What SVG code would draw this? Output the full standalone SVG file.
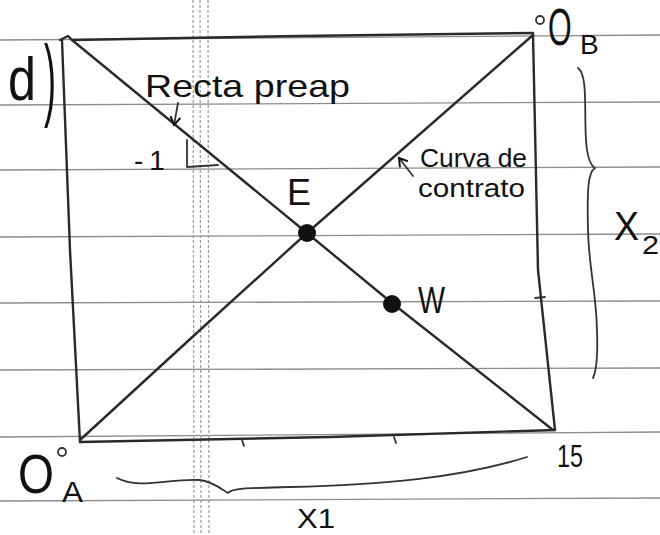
<svg xmlns="http://www.w3.org/2000/svg" width="660" height="535" viewBox="0 0 660 535">
<defs>
<style>
.paper{stroke:#8c8c8c;stroke-width:1.3;fill:none}
.margin{stroke:#9a9a9a;stroke-width:1.2;fill:none;stroke-dasharray:3 2}
.pen{stroke:#2a2a2a;stroke-width:2.4;fill:none;stroke-linecap:round;stroke-linejoin:round}
.thin{stroke:#333;stroke-width:1.8;fill:none;stroke-linecap:round;stroke-linejoin:round}
.hand{font-family:"Liberation Sans","DejaVu Sans",sans-serif;fill:#111}
</style>
<marker id="ah" markerWidth="12" markerHeight="12" refX="9" refY="6" orient="auto" markerUnits="userSpaceOnUse">
<path d="M1,1 L9,6 L1,11" fill="none" stroke="#111" stroke-width="2"/>
</marker>
</defs>
<rect width="660" height="535" fill="#fff"/>
<g id="paper">
<line class="paper" x1="0" y1="40" x2="660" y2="35"/>
<line class="paper" x1="0" y1="105" x2="660" y2="102"/>
<line class="paper" x1="0" y1="170" x2="660" y2="167"/>
<line class="paper" x1="0" y1="237" x2="660" y2="234"/>
<line class="paper" x1="0" y1="303" x2="660" y2="301"/>
<line class="paper" x1="0" y1="370" x2="660" y2="368"/>
<line class="paper" x1="0" y1="437" x2="660" y2="432"/>
<line class="paper" x1="0" y1="501" x2="660" y2="498"/>
<line class="margin" x1="193" y1="0" x2="194" y2="535"/>
<line class="margin" x1="200" y1="0" x2="201" y2="535"/>
<line class="margin" x1="208" y1="0" x2="209" y2="535"/>
</g>
<g id="box">
<path class="pen" d="M60,40 L68,36 L72,40 L300,36 L533,33"/>
<path class="pen" d="M62,40 L70,250 L80,442"/>
<path class="pen" d="M80,442 L330,437 L555,430"/>
<path class="pen" d="M533,34 L538,270 L555,430"/>
<path class="thin" d="M242,440 L244,446 M394,437 L396,443 M535,298 L545,297"/>
</g>
<g id="connectors">
<path class="pen" d="M72,40 L307,233 L392,303 L553,430"/>
<path class="pen" d="M80,440 L200,330 L307,233 L533,35"/>
<path class="thin" d="M187,140 L187,167 L218,165"/>
<path class="thin" d="M178,103 L174,125" marker-end="url(#ah)"/>
<path class="thin" d="M413,176 L399,158" marker-end="url(#ah)"/>
<path class="thin" d="M578,68 C588,75 584,110 586,140 C587,155 590,165 595,168 C588,172 587,190 588,230 C589,270 596,290 597,330 C598,360 596,372 593,378"/>
<path class="thin" d="M117,478 C140,490 170,478 200,480 C215,482 225,492 228,493 C232,488 250,488 290,487 C380,485 460,478 527,457"/>
</g>
<g id="label-d"><text class="hand" x="8" y="100" font-size="62" textLength="28" lengthAdjust="spacingAndGlyphs">d</text>
<text class="hand" x="44" y="109" font-size="90" textLength="12" lengthAdjust="spacingAndGlyphs">)</text></g>
<g id="label-recta"><text class="hand" x="145" y="97" font-size="32" textLength="205" lengthAdjust="spacingAndGlyphs">Recta preap</text></g>
<g id="label-slope"><text class="hand" x="134" y="170" font-size="28" letter-spacing="6">-1</text></g>
<g id="label-curva"><text class="hand" x="420" y="167" font-size="25" textLength="107" lengthAdjust="spacingAndGlyphs">Curva de</text>
<text class="hand" x="418" y="197" font-size="25" textLength="107" lengthAdjust="spacingAndGlyphs">contrato</text></g>
<g id="node-E"><circle cx="307" cy="233" r="9" fill="#111"/>
<text class="hand" x="287" y="205" font-size="36" textLength="24" lengthAdjust="spacingAndGlyphs">E</text></g>
<g id="node-W"><circle cx="392" cy="304" r="9" fill="#111"/>
<text class="hand" x="418" y="313" font-size="36" textLength="27" lengthAdjust="spacingAndGlyphs">W</text></g>
<g id="origin-B"><circle cx="540" cy="20" r="4" class="thin"/>
<text class="hand" transform="translate(548,45) scale(0.8,1.35)" font-size="38">O</text>
<text class="hand" x="580" y="54" font-size="28">B</text></g>
<g id="origin-A"><circle cx="62" cy="452" r="4" class="thin"/>
<text class="hand" x="18" y="493" font-size="56" textLength="36" lengthAdjust="spacingAndGlyphs">O</text>
<text class="hand" x="62" y="502" font-size="30" textLength="21" lengthAdjust="spacingAndGlyphs">A</text></g>
<g id="label-15"><text class="hand" x="557" y="467" font-size="32" textLength="26" lengthAdjust="spacingAndGlyphs">15</text></g>
<g id="label-X2"><text class="hand" x="614" y="240" font-size="40" textLength="25" lengthAdjust="spacingAndGlyphs">X</text>
<text class="hand" x="642" y="254" font-size="26" textLength="17" lengthAdjust="spacingAndGlyphs">2</text></g>
<g id="label-X1"><text class="hand" x="297" y="528" font-size="28" textLength="38" lengthAdjust="spacingAndGlyphs">X1</text></g>
</svg>
